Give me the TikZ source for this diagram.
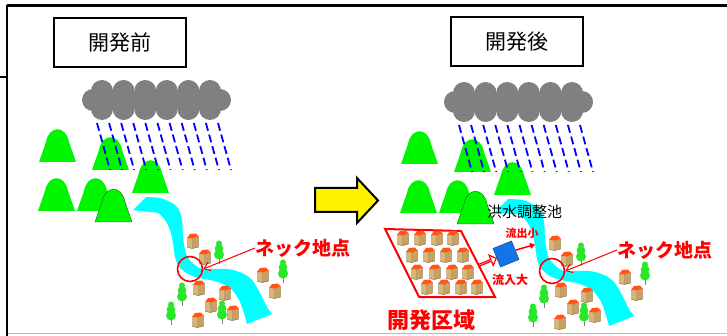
\documentclass[tikz,border=0pt]{standalone}
\usepackage{fontspec}
\newfontfamily\jp{Noto Sans CJK JP}
\usetikzlibrary{arrows.meta,shapes.arrows}

\definecolor{mount}{RGB}{0,245,0}
\definecolor{riverc}{RGB}{0,255,255}
\definecolor{cloudc}{RGB}{128,128,128}
\definecolor{rainc}{RGB}{0,0,255}
\definecolor{wall}{RGB}{216,182,120}
\definecolor{wallside}{RGB}{200,160,98}
\definecolor{walledge}{RGB}{130,98,55}
\definecolor{roofc}{RGB}{255,85,25}
\definecolor{treec}{RGB}{40,230,40}
\definecolor{pondc}{RGB}{20,115,230}
\definecolor{markred}{RGB}{255,0,0}

\tikzset{
  house/.pic={
    \fill[wall] (-5.5,-3.5) -- (-0.5,-3) -- (-0.5,7.5) -- (-5.5,6.5) -- cycle;
    \fill[wallside] (-0.5,-3) -- (5.5,-4) -- (5.5,6) -- (-0.5,7.5) -- cycle;
    \draw[walledge, line width=0.4pt] (-5.5,-3.5) -- (-5.5,6.5) -- (-0.5,7.5) -- (5.5,6) -- (5.5,-4)
      (-0.5,-3) -- (-0.5,7.5);
    \fill[roofc] (-6,-3) -- (-3,-7) -- (3,-7.5) -- (5.8,-4.2) -- (-0.5,-2.6) -- cycle;
  },
  tree/.pic={
    \draw[gray, line width=0.8pt] (0,5) -- (0,12);
    \fill[treec] (0,-8.5) circle[radius=3pt] (0,-3.5) circle[radius=4.3pt] (0,2.5) circle[radius=5pt];
  },
  mountain/.pic={
    \path[fill=mount, pic actions] (0,0) -- (7,-20) .. controls (10,-37) and (27,-37) .. (30,-20) -- (37,0) -- cycle;
  },
  raindash/.style={rainc, line width=1.8pt, dash pattern=on 8pt off 4pt},
  titlebox/.style={draw, line width=2.2pt, minimum width=132pt, minimum height=49pt, inner sep=0,
    font=\jp\fontsize{21}{21}\selectfont},
  necklabel/.style={text=markred, font=\jp\bfseries\fontsize{19}{19}\selectfont, anchor=west, inner sep=0},
  neckring/.style={draw=markred, line width=1.6pt, circle, minimum size=25pt, inner sep=0},
  pointer/.style={markred, line width=1pt, -{Straight Barb[length=6pt,width=9pt]}},
}

% one valley: hills, rain cloud, river, village and the narrow point
\newcommand\drawvalley[1]{%
  \pic at (39,162) {mountain};
  \pic at (92,170) {mountain};
  \pic at (132,193) {mountain};
  \pic at (38,211) {mountain};
  \pic at (77,211) {mountain};
  \pic[draw=green!45!black, line width=0.4pt] at (95,222) {mountain};
  \foreach \i in {0,...,10}
    \draw[raindash] ({97+12.1*\i},123) -- ({110+12.1*\i},170);
  \fill[cloudc] (93,91) rectangle (220,109)
    (93,100) circle[radius=11pt] (220,100) circle[radius=11pt];
  \foreach \i in {0,...,5}
    \fill[cloudc] ({102+21.6*\i},91) circle[radius=11pt] ({102+21.6*\i},109) circle[radius=11pt];
  \fill[riverc] plot[smooth, tension=0.55] coordinates {(146,197) (160,198) (170,202) (178,208) (182,220)
      (183,237) (185,250) (188,258) (195,265) (203,269) (227,269) (242,273) (252,280) (260,293)
      (267,307) (272,314)}
    -- plot[smooth, tension=0.55] coordinates {(247,324) (243,310) (238,298) (230,288) (218,282)
      (205,279) (195,277) (185,272) (178,265) (175,257) (173,243) (170,230) (165,220) (158,213)
      (150,212) (140,211) (133,210)} -- cycle;
  \foreach \p in {(193,241),(205,257),(199,288),(225,293),(211,305),(233,313),(198,320),(263,275),(275,291)}
    \pic at \p {house};
  \foreach \p in {(219,252),(283,271),(182,294),(171,313),(222,312)}
    \pic at \p {tree};
  \node[neckring] (neck#1) at (190,269) {};
  \node[necklabel] (lab#1) at (255,248) {ネック地点};
  \draw[pointer] (lab#1.west) -- (neck#1.east);
}

\begin{document}
\begin{tikzpicture}[x=1pt,y=-1pt]
\useasboundingbox (0,0) rectangle (727,336);
\fill[white] (0,0) rectangle (727,336);

% frame
\draw[black, line width=2.5pt] (7,5.5) -- (727,5.5);
\draw[black, line width=2pt] (7,5.5) -- (7,336);
\draw[black, line width=1.5pt] (0,77) -- (7,77);
\draw[gray!55, line width=1.5pt] (8,333.5) -- (727,333.5);

% titles
\node[titlebox] (before) at (120,42.5) {開発前};
\node[titlebox] (after) at (517,41.5) {開発後};

% before development
\drawvalley{A}

% change arrow
\filldraw[fill=yellow, draw=black, line width=2pt]
  (315,188) -- (357,188) -- (357,178) -- (378,200.5) -- (357,223) -- (357,212) -- (315,212) -- cycle;

% after development
\begin{scope}[shift={(362,2)}]
  \drawvalley{B}
\end{scope}

% developed block
\draw[markred, line width=2pt] (385,229) -- (461,231) -- (495,297) -- (419,297) -- cycle;
\foreach \x in {403,420,437,453} \pic at (\x,238) {house};
\foreach \x in {412,429,446,463} \pic at (\x,255) {house};
\foreach \x in {417,435,452,468} \pic at (\x,272) {house};
\foreach \x in {427,444,461,477} \pic at (\x,287) {house};

% retention pond and flows
\node[rotate=22, fill=pondc, draw=pondc!70!black, line width=0.5pt, minimum size=20pt, inner sep=0] (pond) at (506,254) {};
\node[single arrow, draw=markred, fill=white, line width=1.2pt, minimum height=19pt, minimum width=11pt,
  single arrow head extend=3pt, inner sep=0, rotate=22] (inflow) at (487,262) {};
\coordinate (riverin) at (535,244.5);
\draw[markred, line width=1.5pt, -{Triangle[length=5pt,width=6pt]}] (pond.east) -- (riverin);

% labels
\node[font=\jp\fontsize{15}{15}\selectfont, inner sep=0] (pondlab) at (524.5,212) {洪水調整池};
\node[text=markred, font=\jp\bfseries\fontsize{11}{11}\selectfont, inner sep=0] (outlab) at (522,233) {流出小};
\node[text=markred, font=\jp\bfseries\fontsize{12}{12}\selectfont, inner sep=0] (inlab) at (510,280) {流入大};
\node[text=markred, font=\jp\bfseries\fontsize{22}{22}\selectfont, inner sep=0] (arealab) at (431.5,320) {開発区域};
\end{tikzpicture}
\end{document}
